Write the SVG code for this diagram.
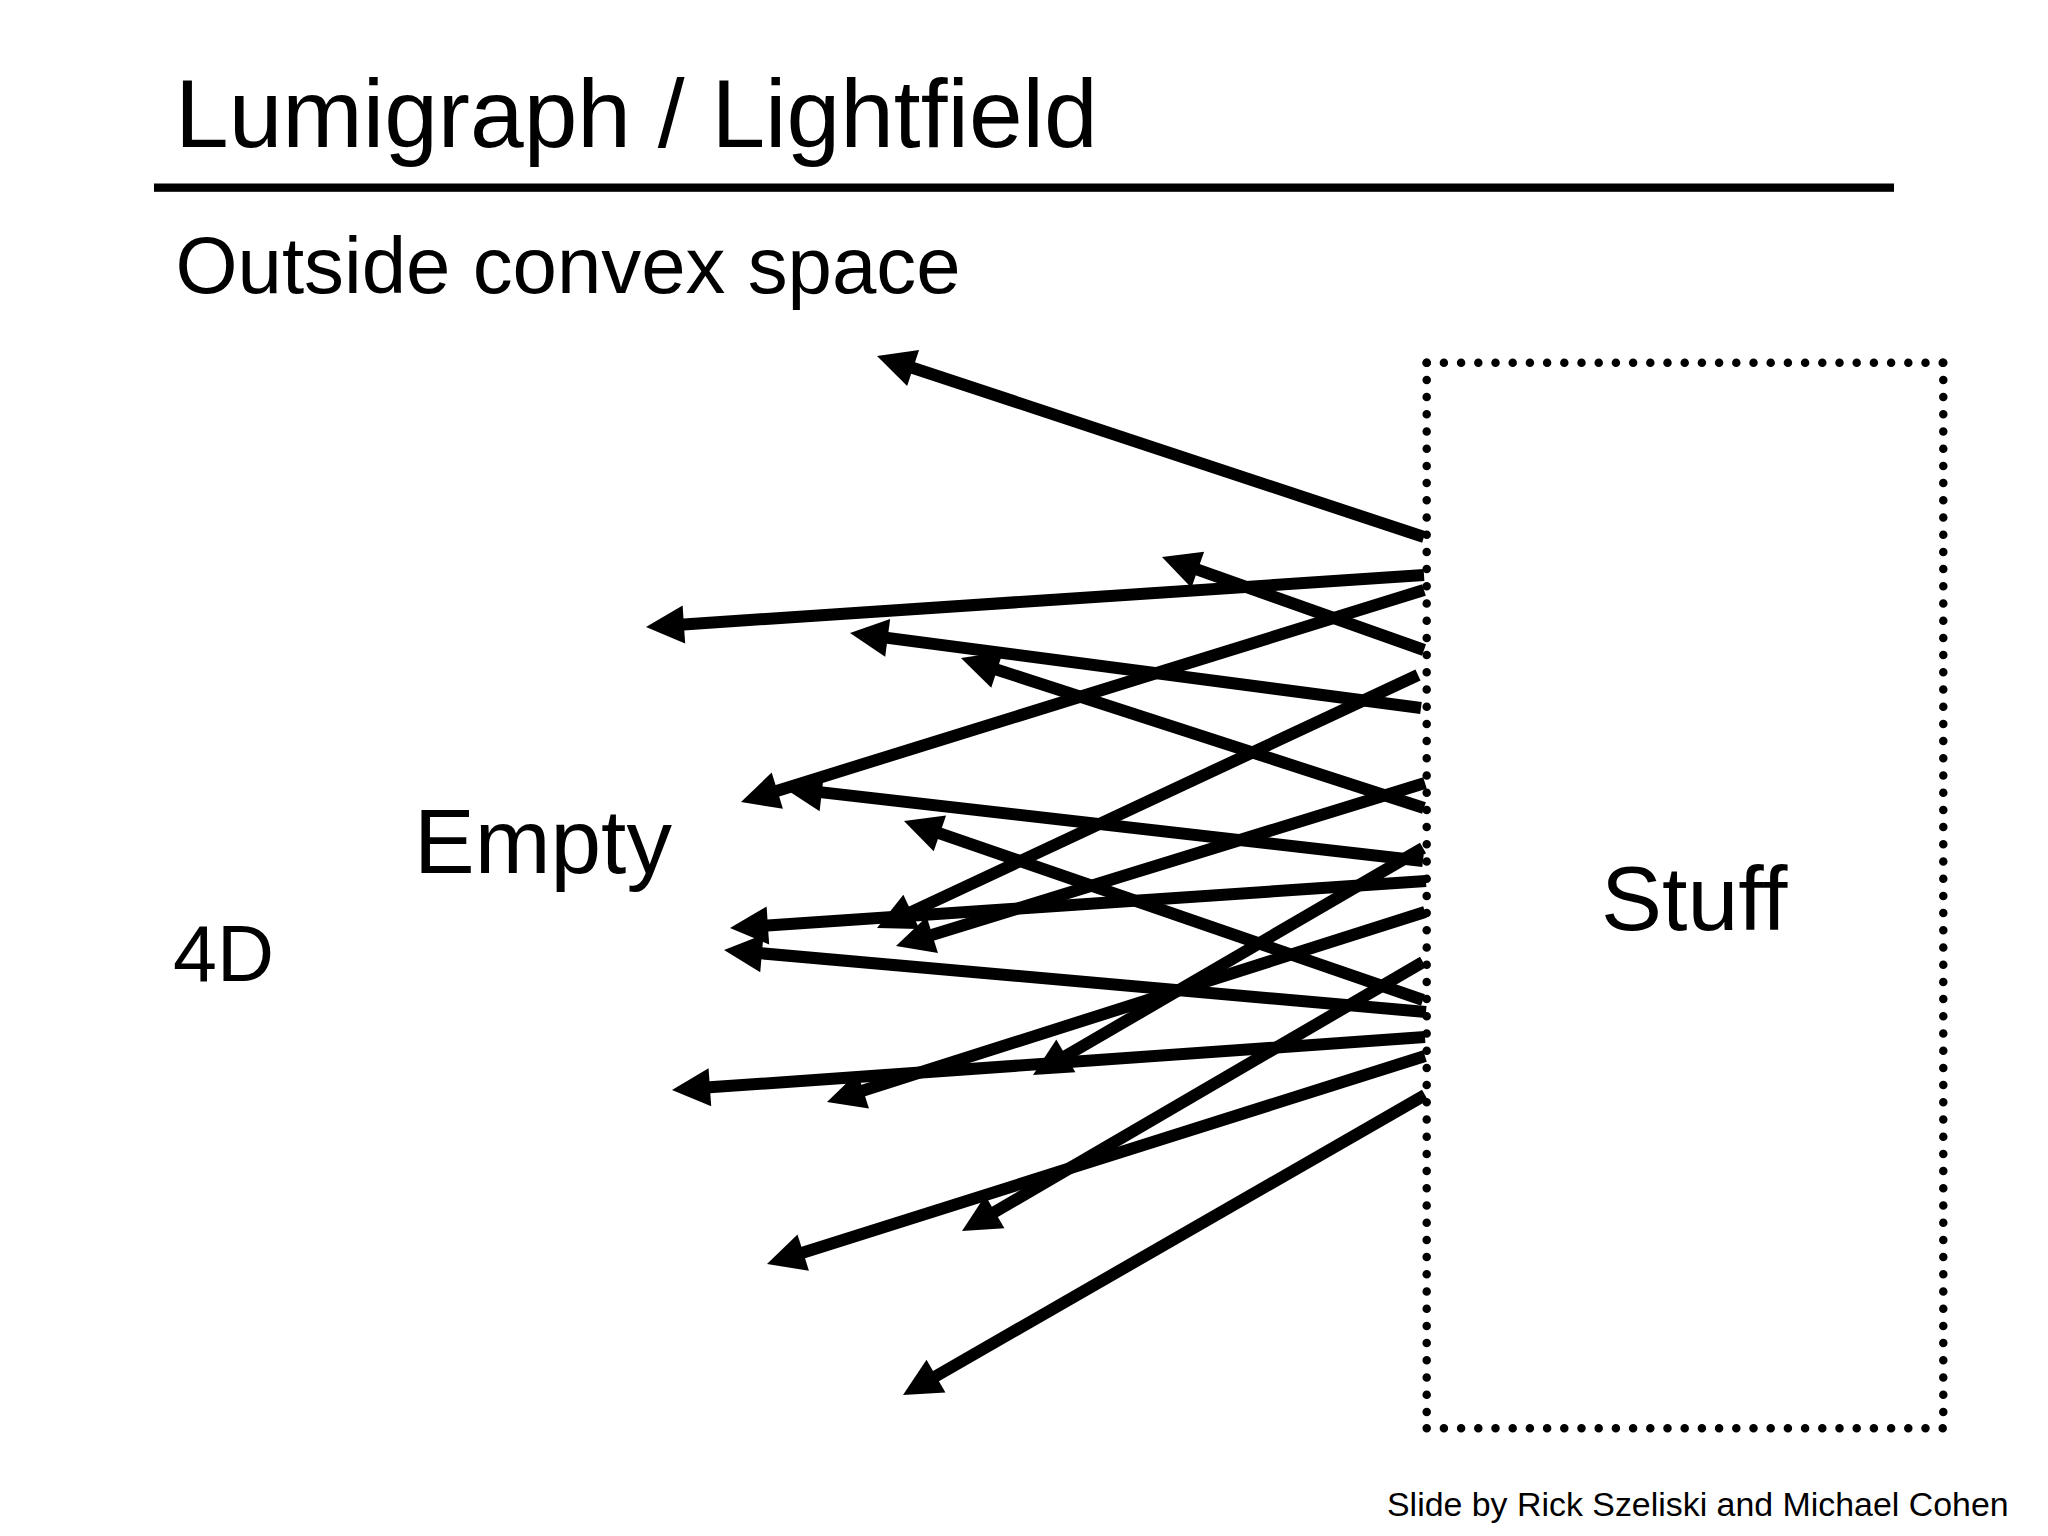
<svg xmlns="http://www.w3.org/2000/svg" width="2048" height="1536" viewBox="0 0 2048 1536">
<style>
  .t { font-family: "Liberation Sans", Arial, sans-serif; fill: #000; }
  .ray { stroke: #000; stroke-width: 12; fill: none; marker-end: url(#head); }
  .dot { stroke: #000; stroke-width: 8.5; stroke-linecap: round; stroke-dasharray: 0 17.2; fill: none; }
</style>
<defs>
  <marker id="head" markerUnits="userSpaceOnUse" orient="auto" refX="0" refY="0" markerWidth="40" markerHeight="40" overflow="visible">
    <path d="M-4,-19 L34,0 L-4,19 Z" fill="#000"/>
  </marker>
</defs>
<rect width="2048" height="1536" fill="#fff"/>
<g id="title">
  <text class="t" x="175" y="147" font-size="96.5">Lumigraph / Lightfield</text>
  <rect x="154" y="183.5" width="1740" height="8.3" fill="#000"/>
</g>
<g id="subtitle"><text class="t" x="175.5" y="293" font-size="79.8">Outside convex space</text></g>
<g id="label-empty"><text class="t" x="414" y="873" font-size="91">Empty</text></g>
<g id="label-4d"><text class="t" x="173" y="981" font-size="79">4D</text></g>
<g id="stuff">
  <line class="dot" x1="1426.7" y1="362.7" x2="1943.3" y2="362.7"/>
  <line class="dot" x1="1426.7" y1="362.7" x2="1426.7" y2="1428.3"/>
  <line class="dot" x1="1943.3" y1="362.7" x2="1943.3" y2="1428.3"/>
  <line class="dot" x1="1426.7" y1="1428.3" x2="1943.3" y2="1428.3"/>
  <text class="t" x="1601" y="930" font-size="91.5">Stuff</text>
</g>
<g id="rays">
  <line class="ray" x1="1424" y1="537" x2="909.3" y2="366.7"/>
  <line class="ray" x1="1424" y1="575" x2="679.9" y2="624.7"/>
  <line class="ray" x1="1424" y1="650" x2="1194.0" y2="568.4"/>
  <line class="ray" x1="1424" y1="590" x2="773.5" y2="791.9"/>
  <line class="ray" x1="1421" y1="708" x2="883.7" y2="637.4"/>
  <line class="ray" x1="1424" y1="808" x2="993.3" y2="668.5"/>
  <line class="ray" x1="1418" y1="675" x2="907.8" y2="913.6"/>
  <line class="ray" x1="1423" y1="861" x2="817.8" y2="791.9"/>
  <line class="ray" x1="1425" y1="783" x2="928.5" y2="936.0"/>
  <line class="ray" x1="1423" y1="1000" x2="936.1" y2="832.1"/>
  <line class="ray" x1="1423" y1="848" x2="1062.4" y2="1057.9"/>
  <line class="ray" x1="1426" y1="881" x2="763.9" y2="925.7"/>
  <line class="ray" x1="1426" y1="1012" x2="757.9" y2="953.0"/>
  <line class="ray" x1="1425" y1="912" x2="859.4" y2="1091.7"/>
  <line class="ray" x1="1425" y1="1037" x2="705.9" y2="1087.6"/>
  <line class="ray" x1="1423" y1="962" x2="991.4" y2="1213.9"/>
  <line class="ray" x1="1425" y1="1056" x2="799.4" y2="1253.8"/>
  <line class="ray" x1="1425" y1="1095" x2="932.5" y2="1378.1"/>
</g>
<g id="credit"><text class="t" x="1387" y="1516" font-size="33.9">Slide by Rick Szeliski and Michael Cohen</text></g>
</svg>
